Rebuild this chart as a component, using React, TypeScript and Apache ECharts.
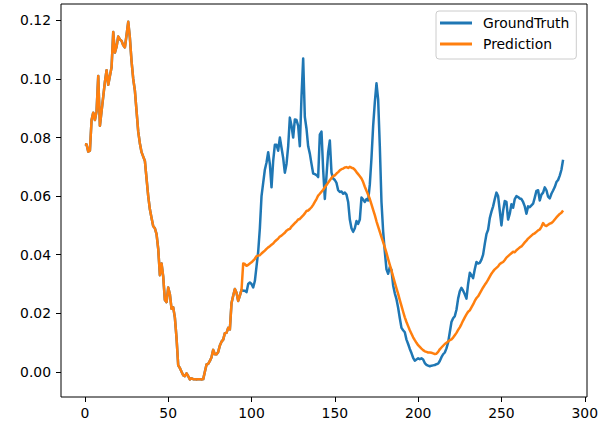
import React, { useEffect, useRef } from "react";
import * as echarts from "echarts";

// Steps 0..94: both series coincide (Prediction drawn over GroundTruth)
const sharedHead: number[] = [
  0.0777, 0.0776, 0.0752, 0.0755, 0.086, 0.0885, 0.086, 0.089, 0.101, 0.084,
  0.089, 0.094, 0.099, 0.103, 0.098, 0.101, 0.104, 0.116, 0.109, 0.111,
  0.1145, 0.1135, 0.113, 0.1115, 0.1108, 0.115, 0.1195, 0.114, 0.106, 0.1,
  0.096, 0.089, 0.082, 0.078, 0.075, 0.0735, 0.072, 0.066, 0.06, 0.0555,
  0.0525, 0.0497, 0.049, 0.047, 0.042, 0.033, 0.037, 0.0325, 0.0245, 0.0238,
  0.0288, 0.0265, 0.0215, 0.022, 0.0185, 0.0115, 0.0022, 0.0013, 0.0, -0.0012,
  -0.0015, -0.0005, -0.0015, -0.0026, -0.0022, -0.0025, -0.0025, -0.0026, -0.0025, -0.0025,
  -0.0026, -0.0025, 0.0, 0.0025, 0.0027, 0.0037, 0.005, 0.0075, 0.006, 0.006,
  0.0068, 0.009, 0.0103, 0.011, 0.0132, 0.0133, 0.015, 0.0145, 0.0235, 0.026,
  0.0283, 0.027, 0.0242, 0.026, 0.028,
];

// Steps 95..287
const groundTruthTail: number[] = [
  0.0277, 0.0277, 0.0272, 0.03, 0.0305,
  0.03, 0.0288, 0.031, 0.036, 0.041, 0.049, 0.06, 0.0645, 0.069, 0.0715,
  0.075, 0.071, 0.063, 0.072, 0.0775, 0.0775, 0.0755, 0.08, 0.0765, 0.073,
  0.068, 0.071, 0.077, 0.0868, 0.084, 0.08, 0.0862, 0.086, 0.084, 0.077,
  0.094, 0.107, 0.087, 0.083, 0.077, 0.0745, 0.071, 0.0677, 0.0675, 0.0672,
  0.0665, 0.081, 0.082, 0.069, 0.059, 0.067, 0.075, 0.079, 0.068, 0.066,
  0.0655, 0.0645, 0.062, 0.0614, 0.0616, 0.0608, 0.0612, 0.0605, 0.058, 0.052,
  0.049, 0.0478, 0.049, 0.0515, 0.0505, 0.052, 0.0595, 0.0588, 0.058, 0.059,
  0.0585, 0.064, 0.073, 0.084, 0.092, 0.0985, 0.093, 0.077, 0.058, 0.048,
  0.041, 0.035, 0.0335, 0.0358, 0.0348, 0.0295, 0.0268, 0.0248, 0.0219, 0.0183,
  0.015, 0.0142, 0.0135, 0.011, 0.0095, 0.0078, 0.0064, 0.0048, 0.0038, 0.0042,
  0.0046, 0.0043, 0.0046, 0.0042, 0.003, 0.0024, 0.0021, 0.0019, 0.0021, 0.0022,
  0.0023, 0.0026, 0.0028, 0.0037, 0.005, 0.006, 0.0066, 0.008, 0.01, 0.0135,
  0.017, 0.0183, 0.019, 0.0212, 0.025, 0.0275, 0.0287, 0.0277, 0.0265, 0.025,
  0.03, 0.0338, 0.033, 0.032, 0.035, 0.0375, 0.037, 0.0372, 0.0383, 0.04,
  0.0437, 0.047, 0.0485, 0.0525, 0.0547, 0.0565, 0.059, 0.0612, 0.06, 0.055,
  0.05, 0.055, 0.0583, 0.058, 0.052, 0.054, 0.0572, 0.056, 0.059, 0.06,
  0.0597, 0.0592, 0.059, 0.058, 0.0565, 0.054, 0.0565, 0.0562, 0.0568, 0.0574,
  0.0595, 0.0618, 0.062, 0.0585, 0.0605, 0.0612, 0.063, 0.062, 0.0598, 0.0592,
  0.0608, 0.0619, 0.0631, 0.0648, 0.0655, 0.067, 0.069, 0.0724,
];

const predictionTail: number[] = [
  0.037, 0.0368, 0.0362, 0.0365, 0.037,
  0.0374, 0.038, 0.0386, 0.0395, 0.0397, 0.0398, 0.0404, 0.0409, 0.0414, 0.042,
  0.0425, 0.0429, 0.0434, 0.0438, 0.0445, 0.045, 0.0455, 0.0462, 0.0465, 0.047,
  0.0475, 0.0482, 0.0486, 0.0488, 0.0496, 0.0502, 0.0508, 0.0513, 0.052, 0.0522,
  0.0528, 0.0534, 0.0541, 0.0549, 0.0551, 0.0556, 0.0562, 0.057, 0.058, 0.059,
  0.0602, 0.0608, 0.0615, 0.0622, 0.063, 0.0638, 0.0646, 0.0654, 0.0662, 0.0668,
  0.0671, 0.0677, 0.0682, 0.0688, 0.0692, 0.0694, 0.0698, 0.0699, 0.0696, 0.07,
  0.0697, 0.0695, 0.069, 0.0682, 0.0675, 0.0668, 0.066, 0.0648, 0.0632, 0.0618,
  0.0605, 0.059, 0.0572, 0.0553, 0.0535, 0.0514, 0.0496, 0.0478, 0.046, 0.0443,
  0.0425, 0.0406, 0.0385, 0.0365, 0.0346, 0.0325, 0.0305, 0.0285, 0.0266, 0.0245,
  0.0225, 0.0205, 0.0186, 0.017, 0.0156, 0.0142, 0.013, 0.0118, 0.0108, 0.0099,
  0.0091, 0.0085, 0.0079, 0.0074, 0.007, 0.0068, 0.0066, 0.0066, 0.0065, 0.0063,
  0.0061, 0.0062, 0.0068, 0.0077, 0.0083, 0.0089, 0.0095, 0.0099, 0.0104, 0.0108,
  0.0111, 0.0117, 0.0125, 0.0133, 0.0143, 0.0152, 0.0163, 0.0175, 0.0186, 0.0196,
  0.0205, 0.021, 0.022, 0.023, 0.0242, 0.0252, 0.0258, 0.0268, 0.0278, 0.0288,
  0.0297, 0.0305, 0.0315, 0.0325, 0.0335, 0.0343, 0.035, 0.0355, 0.036, 0.0368,
  0.0372, 0.0375, 0.0382, 0.039, 0.0395, 0.04, 0.0405, 0.041, 0.0408, 0.0415,
  0.042, 0.0425, 0.0428, 0.0435, 0.0442, 0.0448, 0.0455, 0.046, 0.0465, 0.047,
  0.0473, 0.0478, 0.0483, 0.0486, 0.0495, 0.0508, 0.05, 0.0498, 0.0502, 0.0506,
  0.0508, 0.0513, 0.052, 0.0527, 0.0533, 0.0539, 0.0543, 0.0551,
];

const xTicks: number[] = [0, 50, 100, 150, 200, 250, 300];
const yTicks: number[] = [0, 0.02, 0.04, 0.06, 0.08, 0.1, 0.12];
const seriesNames: string[] = ["GroundTruth", "Prediction"];

const groundTruth = [...sharedHead, ...groundTruthTail];
const prediction = [...sharedHead, ...predictionTail];

const FONT = "DejaVu Sans";

export default function App() {
  const ref = useRef<HTMLDivElement>(null);
  useEffect(() => {
    if (!ref.current) return;
    const chart = echarts.init(ref.current, undefined, { renderer: "svg" });
    const axisCommon = {
      axisLine: { show: false, onZero: false },
      splitLine: { show: false },
      axisTick: { show: true, length: 5, lineStyle: { color: "#000", width: 1 } },
    };
    chart.setOption({
      animation: false,
      backgroundColor: "#fff",
      grid: {
        left: 61,
        right: 22,
        top: 4,
        bottom: 28,
        show: true,
        borderColor: "#000",
        borderWidth: 1,
        backgroundColor: "transparent",
      },
      legend: {
        data: seriesNames,
        orient: "vertical",
        left: 436,
        top: 11,
        padding: [4, 7, 7, 4],
        itemGap: 5,
        itemWidth: 32,
        itemHeight: 3,
        icon: "rect",
        backgroundColor: "rgba(255,255,255,0.8)",
        borderColor: "#cccccc",
        borderWidth: 1,
        borderRadius: 3,
        textStyle: {
          fontFamily: FONT,
          fontSize: 13.9,
          color: "#000",
          lineHeight: 16,
          padding: [0, 0, 0, 6],
        },
      },
      xAxis: {
        type: "value",
        min: -14.35,
        max: 301.35,
        ...axisCommon,
        axisTick: { ...axisCommon.axisTick, customValues: xTicks },
        axisLabel: {
          customValues: xTicks,
          margin: 9,
          color: "#000",
          fontFamily: FONT,
          fontSize: 13.9,
          formatter: (v: number) => String(Math.round(v)),
        },
      },
      yAxis: {
        type: "value",
        min: -0.0086,
        max: 0.1256,
        ...axisCommon,
        axisTick: { ...axisCommon.axisTick, customValues: yTicks },
        axisLabel: {
          customValues: yTicks,
          margin: 10,
          color: "#000",
          fontFamily: FONT,
          fontSize: 13.9,
          formatter: (v: number) => v.toFixed(2),
        },
      },
      series: [
        {
          name: seriesNames[0],
          type: "line",
          data: groundTruth.map((v, i) => [i, v]),
          showSymbol: false,
          symbol: "none",
          color: "#1f77b4",
          lineStyle: { width: 2.5, color: "#1f77b4", join: "round" },
        },
        {
          name: seriesNames[1],
          type: "line",
          data: prediction.map((v, i) => [i, v]),
          showSymbol: false,
          symbol: "none",
          color: "#ff7f0e",
          lineStyle: { width: 2.5, color: "#ff7f0e", join: "round" },
        },
      ],
    });
    return () => chart.dispose();
  }, []);
  return <div ref={ref} style={{ width: 609, height: 425, position: "absolute", left: 0, top: 0 }} />;
}
